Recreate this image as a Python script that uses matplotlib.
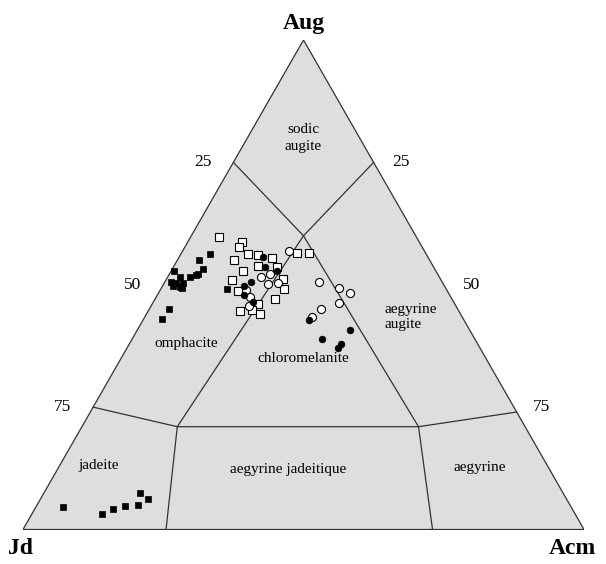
import numpy as np
import matplotlib.pyplot as plt

plt.rcParams['font.family'] = ['Liberation Serif', 'DejaVu Serif']

# pyroxene compositions, mol% (Aug, Jd, Acm)
sq_filled_aug = [56.3, 55.1, 53.3, 52.8, 51.6, 52.1, 52.0, 51.5, 50.6, 50.4, 49.8, 49.6, 50.3, 49.3,
                 45.0, 43.1, 49.1, 4.5, 3.1, 4.2, 4.9, 5.1, 7.5, 6.2]
sq_filled_acm = [5.1, 3.9, 5.5, 0.5, 2.1, 5.2, 4.8, 4.1, 1.0, 2.1, 1.9, 3.1, 3.4, 3.7,
                 3.6, 3.2, 11.9, 4.8, 12.6, 14.0, 15.7, 18.0, 17.1, 19.2]

sq_open_aug = [59.8, 58.8, 57.7, 56.2, 56.1, 55.1, 55.4, 53.8, 52.8, 51.0, 48.8, 46.1, 44.7, 44.8,
               44.0, 47.1, 53.7, 56.4, 56.4, 51.1, 49.1]
sq_open_acm = [5.1, 9.6, 9.6, 12.0, 13.8, 10.0, 16.6, 15.0, 12.9, 11.7, 13.9, 18.9, 16.3, 18.4,
               20.2, 21.4, 18.4, 20.6, 22.7, 20.8, 21.9]

ci_filled_aug = [55.6, 53.7, 52.9, 50.6, 49.8, 47.9, 46.5, 42.8, 40.8, 38.9, 37.8, 37.1]
ci_filled_acm = [14.9, 16.3, 18.8, 15.3, 14.5, 15.4, 17.8, 29.6, 37.9, 33.8, 37.7, 37.6]

ci_open_aug = [56.8, 51.6, 52.2, 50.2, 50.4, 48.9, 47.4, 50.5, 49.4, 48.3, 46.3, 45.0, 43.4, 45.7]
ci_open_acm = [19.1, 16.7, 17.9, 18.5, 20.3, 15.3, 16.8, 27.5, 31.6, 34.1, 33.2, 30.7, 29.9, 17.5]

# field boundaries (Aug, Jd, Acm)
sodic_line = [(75, 25, 0), (60, 20, 20), (75, 0, 25)]
left_split = [(60, 20, 20), (21, 62, 17), (0, 74.5, 25.5)]
right_split = [(60, 20, 20), (21, 19, 60), (0, 27, 73)]
jd_line = [(25, 75, 0), (21, 62, 17), (21, 19, 60), (24, 0, 76)]

fields = ['sodic\naugite', 'omphacite', 'chloromelanite', 'aegyrine\naugite',
          'jadeite', 'aegyrine jadeitique', 'aegyrine']
field_pos = [(80, 10, 10), (38, 52, 10), (35, 32.5, 32.5), (43.4, 13.8, 42.8),
             (13, 80, 7), (12.2, 46.7, 41.1), (12.6, 12.2, 75.2)]

ticks = ['25', '50', '75']
tick_aug = [75, 50, 25]


def tern(aug, jd, acm):
    aug, jd, acm = (np.asarray(v, dtype=float) for v in (aug, jd, acm))
    tot = aug + jd + acm
    return (acm + aug / 2) / tot, aug / tot * np.sqrt(3) / 2


def tern_pts(pts):
    a, j, c = zip(*pts)
    return tern(a, j, c)


fig = plt.figure(figsize=(6.06, 5.64), dpi=100)
ax = fig.add_axes([23 / 606, 34.5 / 564, 561 / 606, 489.5 / 564])
ax.set_xlim(0, 1)
ax.set_ylim(0, np.sqrt(3) / 2)
ax.axis('off')

tx, ty = tern([0, 100, 0], [100, 0, 0], [0, 0, 100])
ax.fill(tx, ty, facecolor='#dedede', edgecolor='#333333', lw=0.9, zorder=1)

for line in (sodic_line, left_split, right_split, jd_line):
    x, y = tern_pts(line)
    ax.plot(x, y, color='#333333', lw=0.9, zorder=2)


def plot_group(aug, acm, **kw):
    aug = np.array(aug)
    acm = np.array(acm)
    x, y = tern(aug, 100 - aug - acm, acm)
    ax.plot(x, y, ls='none', zorder=3, **kw)


plot_group(sq_open_aug, sq_open_acm, marker='s', ms=5.6, mfc='white', mec='black', mew=0.8)
plot_group(ci_open_aug, ci_open_acm, marker='o', ms=5.8, mfc='white', mec='black', mew=0.8)
plot_group(sq_filled_aug, sq_filled_acm, marker='s', ms=5, mfc='black', mec='black', mew=0.5)
plot_group(ci_filled_aug, ci_filled_acm, marker='o', ms=4.8, mfc='black', mec='black', mew=0.5)

for name, pos in zip(fields, field_pos):
    x, y = tern(*pos)
    if name == 'aegyrine\naugite':
        ax.text(x, y, name, fontsize=11, ha='left', va='center', linespacing=1.15)
    else:
        ax.text(x, y, name, fontsize=11, ha='center', va='center', linespacing=1.4)

for lab, a in zip(ticks, tick_aug):
    x, y = tern(a, 100 - a, 0)
    ax.annotate(lab, (x, y), xytext=(-22, 0), textcoords='offset points',
                fontsize=12.5, ha='center', va='center')
    x, y = tern(a, 0, 100 - a)
    ax.annotate(lab, (x, y), xytext=(20, 0), textcoords='offset points',
                fontsize=12.5, ha='center', va='center')

x, y = tern(100, 0, 0)
ax.annotate('Aug', (x, y), xytext=(0, 12), textcoords='offset points',
            fontsize=17, fontweight='bold', ha='center', va='center')
x, y = tern(0, 100, 0)
ax.annotate('Jd', (x, y), xytext=(-2, -14), textcoords='offset points',
            fontsize=17, fontweight='bold', ha='center', va='center')
x, y = tern(0, 0, 100)
ax.annotate('Acm', (x, y), xytext=(-8, -14), textcoords='offset points',
            fontsize=17, fontweight='bold', ha='center', va='center')

fig.savefig('out.png', dpi=100, facecolor='white')
